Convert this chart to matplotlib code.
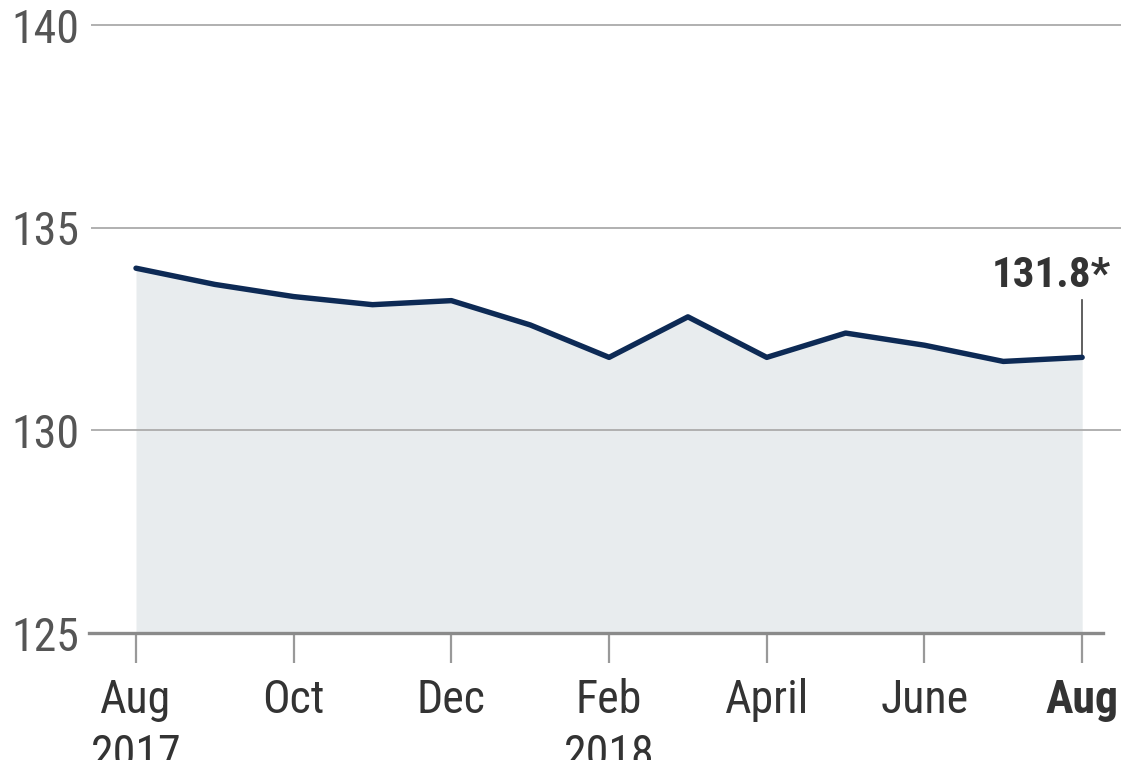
import matplotlib
matplotlib.use("Agg")
import matplotlib.pyplot as plt
import numpy as np

months = ["Aug 2017", "Sep", "Oct", "Nov", "Dec", "Jan 2018", "Feb", "Mar",
          "Apr", "May", "Jun", "Jul", "Aug 2018"]
values = [134.0, 133.6, 133.3, 133.1, 133.2, 132.6, 131.8, 132.8,
          131.8, 132.4, 132.1, 131.7, 131.8]
tick_idx = [0, 2, 4, 6, 8, 10, 12]
tick_labels = ["Aug\n2017", "Oct", "Dec", "Feb\n2018", "April", "June", "Aug"]
y_ticks = [125, 130, 135, 140]
last_label = "131.8*"

plt.rcParams["font.family"] = ["Roboto Condensed", "Roboto", "DejaVu Sans"]

fig = plt.figure(figsize=(11.4, 7.6), dpi=100)
ax = fig.add_axes([92 / 1140, 1 - 633 / 760, (1120 - 92) / 1140, (633 - 25) / 760])

x = np.arange(len(values))
ax.fill_between(x, values, 125, color="#e8ecee", lw=0, zorder=1)
ax.plot(x, values, color="#0d2a55", lw=3.9, solid_joinstyle="round",
        solid_capstyle="round", zorder=3)

ax.set_xlim(-0.558, 12.48)
ax.set_ylim(125, 140)

for s in ["top", "right", "left"]:
    ax.spines[s].set_visible(False)
ax.spines["bottom"].set_color("#8a8a8a")
ax.spines["bottom"].set_linewidth(2.4)
ax.spines["bottom"].set_bounds(-0.6, 12.27)
ax.spines["bottom"].set_zorder(4)

for yv in y_ticks[1:]:
    ax.axhline(yv, color="#b0b0b0", lw=1.4, zorder=2, clip_on=False)

ax.set_yticks(y_ticks)
ax.set_yticklabels([str(v) for v in y_ticks], fontsize=33, color="#555555")
ax.tick_params(axis="y", length=0, pad=9)

ax.set_xticks(tick_idx)
ax.set_xticklabels(tick_labels, fontsize=33, color="#333333", linespacing=1.3)
ax.tick_params(axis="x", length=21.6, width=1.6, color="#999999", pad=11)
ax.get_xticklabels()[-1].set_fontweight("bold")

ax.plot([12, 12], [values[-1], values[-1] + 1.42], color="#444444", lw=1.2, zorder=2)
ax.text(12.36, values[-1] + 1.74, last_label, fontsize=31, fontweight="bold",
        color="#333333", ha="right", va="baseline")

fig.savefig("out.png", dpi=100)
